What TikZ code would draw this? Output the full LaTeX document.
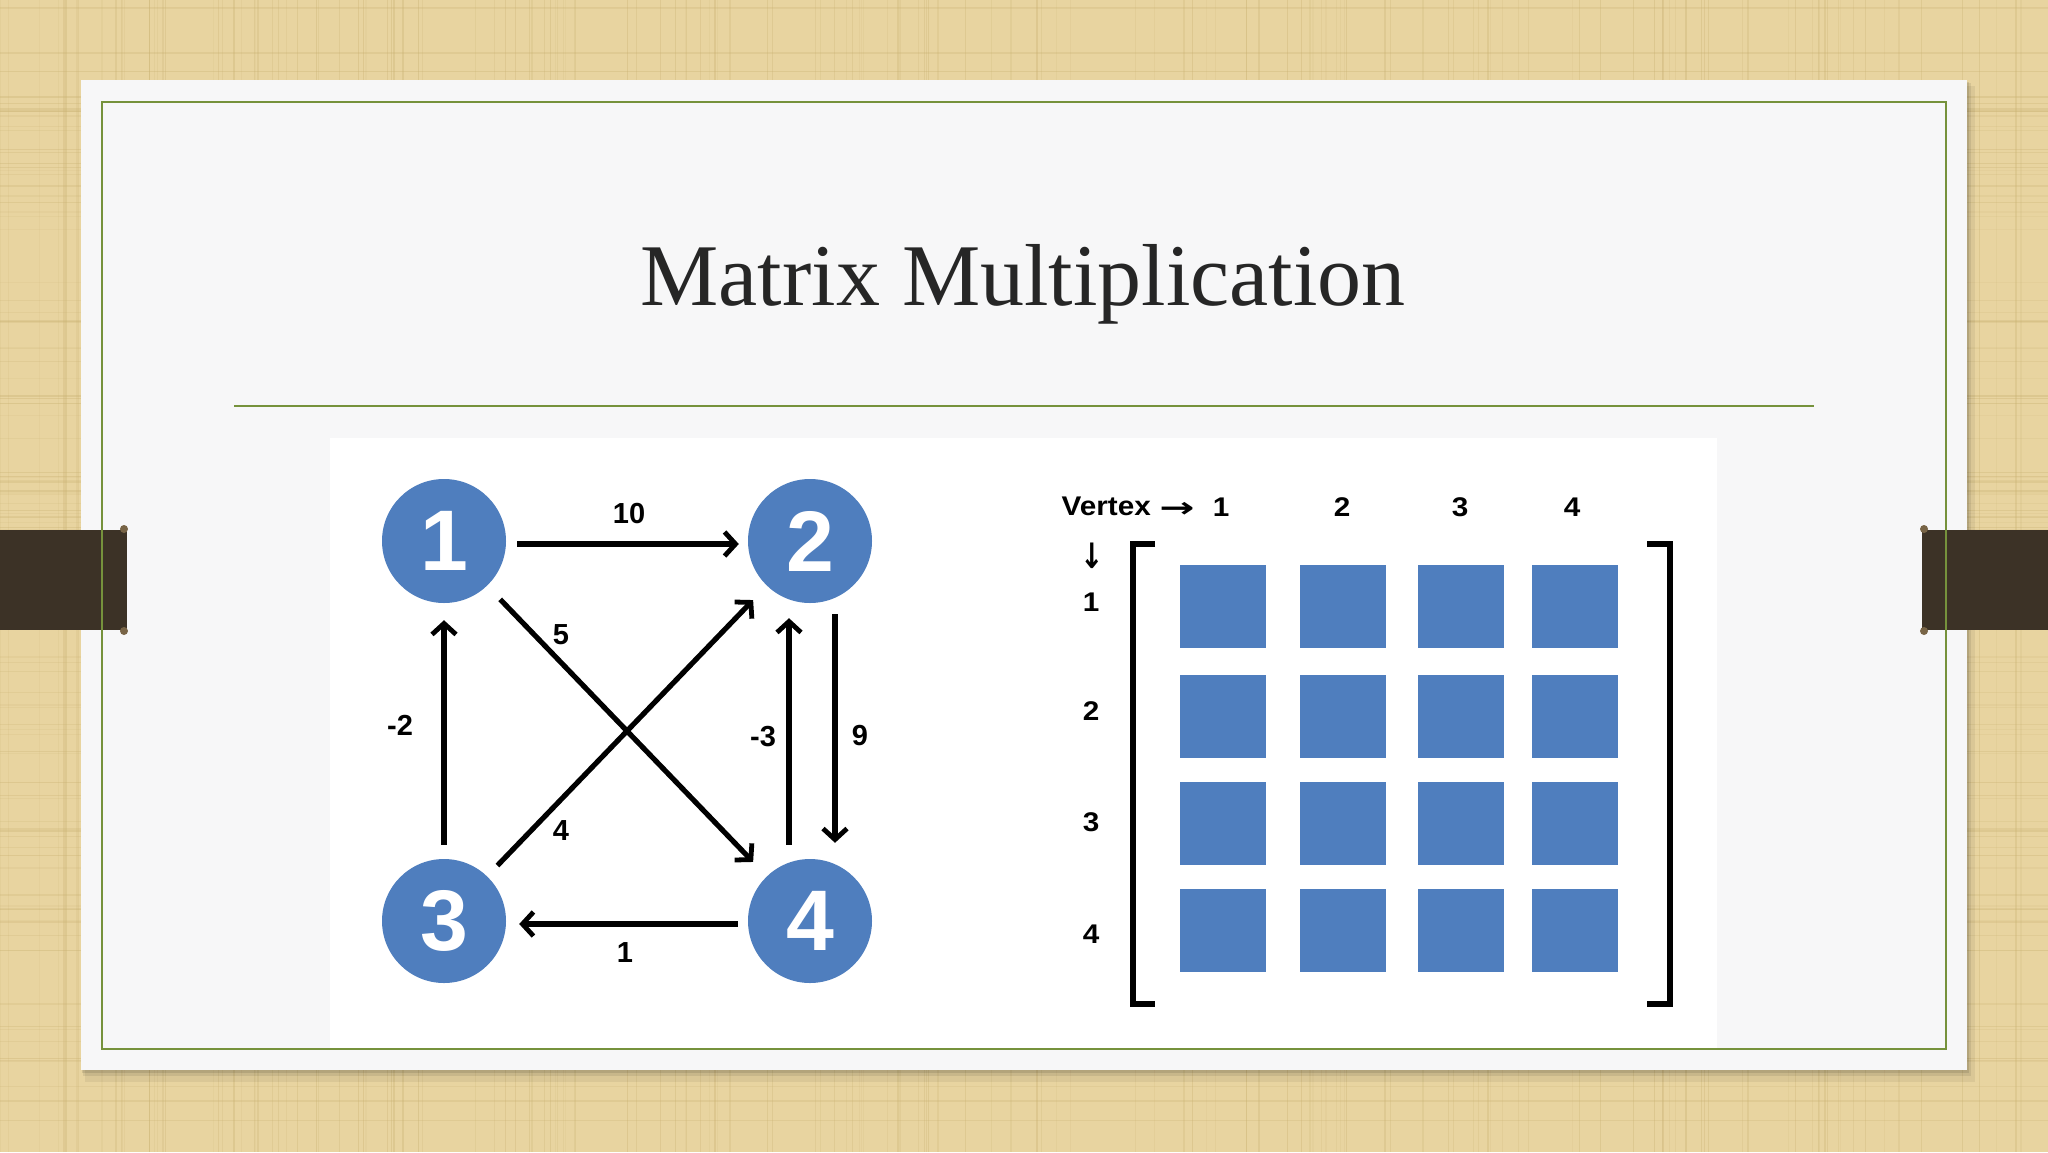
\documentclass[tikz,border=0pt]{standalone}
\usepackage{fontspec}
\setmainfont{Liberation Serif}
\newfontfamily\arialfont{Liberation Sans}
\newfontfamily\arialwide[FakeStretch=1.1]{Liberation Sans}
\newfontfamily\dejavu{DejaVu Sans}
\usetikzlibrary{arrows.meta,calc}
\definecolor{bgtan}{RGB}{232,212,160}
\definecolor{bgline}{RGB}{200,176,112}
\definecolor{cardwhite}{RGB}{247,247,248}
\definecolor{framegreen}{RGB}{118,146,60}
\definecolor{tabbrown}{RGB}{60,50,38}
\definecolor{knob}{RGB}{120,100,70}
\definecolor{nodeblue}{RGB}{79,126,190}
\definecolor{titlegray}{RGB}{38,38,38}
\tikzset{
  vnode/.style={circle, fill=nodeblue, minimum size=124pt, inner sep=0pt, text=white,
    font=\arialfont\bfseries\fontsize{86}{86}\selectfont},
  edge/.style={line width=5.2pt, -{Straight Barb[length=11pt,width=24pt,line width=4.8pt]}},
  elabel/.style={font=\arialfont\bfseries\fontsize{29}{29}\selectfont, text=black, inner sep=0pt},
  mlabel/.style={font=\arialwide\bfseries\fontsize{27}{27}\selectfont, text=black, inner sep=0pt},
  arrowtext/.style={inner sep=0pt, text=black, font=\dejavu\bfseries\fontsize{28}{28}\selectfont},
  cell/.style={rectangle, fill=nodeblue, minimum width=86pt, minimum height=83pt, inner sep=0pt},
  bracket/.style={line width=6.5pt, line join=miter},
}
\begin{document}
\begin{tikzpicture}[x=1pt,y=-1pt]
\useasboundingbox (0,0) rectangle (2048,1152);
% background
\fill[bgtan] (0,0) rectangle (2048,1152);
\pgfmathsetseed{7}
\foreach \i in {1,...,160}{
  \pgfmathsetmacro{\xx}{rnd*2048}
  \pgfmathsetmacro{\oo}{0.10+0.25*rnd}
  \draw[bgline, line width=1.2pt, opacity=\oo] (\xx,0) -- (\xx,1152);
}
\foreach \i in {1,...,110}{
  \pgfmathsetmacro{\yy}{rnd*1152}
  \pgfmathsetmacro{\oo}{0.10+0.25*rnd}
  \draw[bgline, line width=1.2pt, opacity=\oo] (0,\yy) -- (2048,\yy);
}
% card shadow
\fill[black, opacity=0.06] (85,86) rectangle (1975,1082);
\fill[black, opacity=0.08] (83,83) rectangle (1971,1076);
\fill[black, opacity=0.10] (82,82) rectangle (1969,1073);
% card
\fill[cardwhite] (81,80) rectangle (1967,1070);
% tabs
\fill[tabbrown] (0,530) rectangle (127,630);
\fill[knob] (124,529) circle (4);
\fill[knob] (124,631) circle (4);
\fill[tabbrown] (1922,530) rectangle (2048,630);
\fill[knob] (1924,529) circle (4);
\fill[knob] (1924,631) circle (4);
% frame
\draw[framegreen, line width=2.5pt] (102,102) rectangle (1946,1049);
% title
\node[anchor=base, text=titlegray, font=\fontsize{88}{90}\selectfont, inner sep=0pt] (title) at (1023,305) {Matrix Multiplication};
\draw[framegreen, line width=2.5pt] (234,406) -- (1814,406);
% inner picture
\fill[white] (330,438) rectangle (1717,1048);
% graph
\node[vnode] (n1) at (444,541) {1};
\node[vnode] (n2) at (810,541) {2};
\node[vnode] (n3) at (444,921) {3};
\node[vnode] (n4) at (810,921) {4};
\draw[edge] ([xshift=11pt,yshift=-3pt]n1.east) -- ([xshift=-9pt,yshift=-3pt]n2.west);
\draw[edge] ([yshift=14pt]n3.north) -- ([yshift=-17pt]n1.south);
\draw[edge] ([xshift=-21pt,yshift=14pt]n4.north) -- ([xshift=-21pt,yshift=-15pt]n2.south);
\draw[edge] ([xshift=25pt,yshift=-11pt]n2.south) -- ([xshift=25pt,yshift=16pt]n4.north);
\draw[edge] ([xshift=-10pt,yshift=-3pt]n4.west) -- ([xshift=13pt,yshift=-3pt]n3.east);
\draw[edge] ($(n1)!81pt!(n4)$) -- ($(n4)!82pt!(n1)$);
\draw[edge] ($(n3)!77pt!(n2)$) -- ($(n2)!82pt!(n3)$);
\node[elabel] (l10) at (629,514) {10};
\node[elabel] (l5) at (561,635) {5};
\node[elabel] (lm2) at (400,725) {-2};
\node[elabel] (lm3) at (763,737) {-3};
\node[elabel] (l9) at (860,736) {9};
\node[elabel] (l4) at (561,831) {4};
\node[elabel] (l1) at (625,953) {1};
% matrix
\node[mlabel, anchor=base east] (vertex) at (1151,515) {Vertex};
\node[arrowtext] (rarrow) at (1177,510) {\scalebox{1.5}[1]{→}};
\node[mlabel] (c1) at (1221,507) {1};
\node[mlabel] (c2) at (1342,507) {2};
\node[mlabel] (c3) at (1460,507) {3};
\node[mlabel] (c4) at (1572,507) {4};
\node[arrowtext] (down) at (1092,556) {\scalebox{1}[1.25]{↓}};
\node[mlabel] (r1) at (1091,602) {1};
\node[mlabel] (r2) at (1091,711) {2};
\node[mlabel] (r3) at (1091,822) {3};
\node[mlabel] (r4) at (1091,934) {4};
\foreach \r/\y in {1/606,2/716,3/823,4/930}{
  \foreach \c/\x in {1/1223,2/1343,3/1461,4/1575}{
    \node[cell] (m\r\c) at (\x,\y) {};
  }
}
\draw[bracket] (1155,544) -- (1133,544) -- (1133,1004) -- (1155,1004);
\draw[bracket] (1647,544) -- (1670,544) -- (1670,1004) -- (1647,1004);
\end{tikzpicture}
\end{document}
